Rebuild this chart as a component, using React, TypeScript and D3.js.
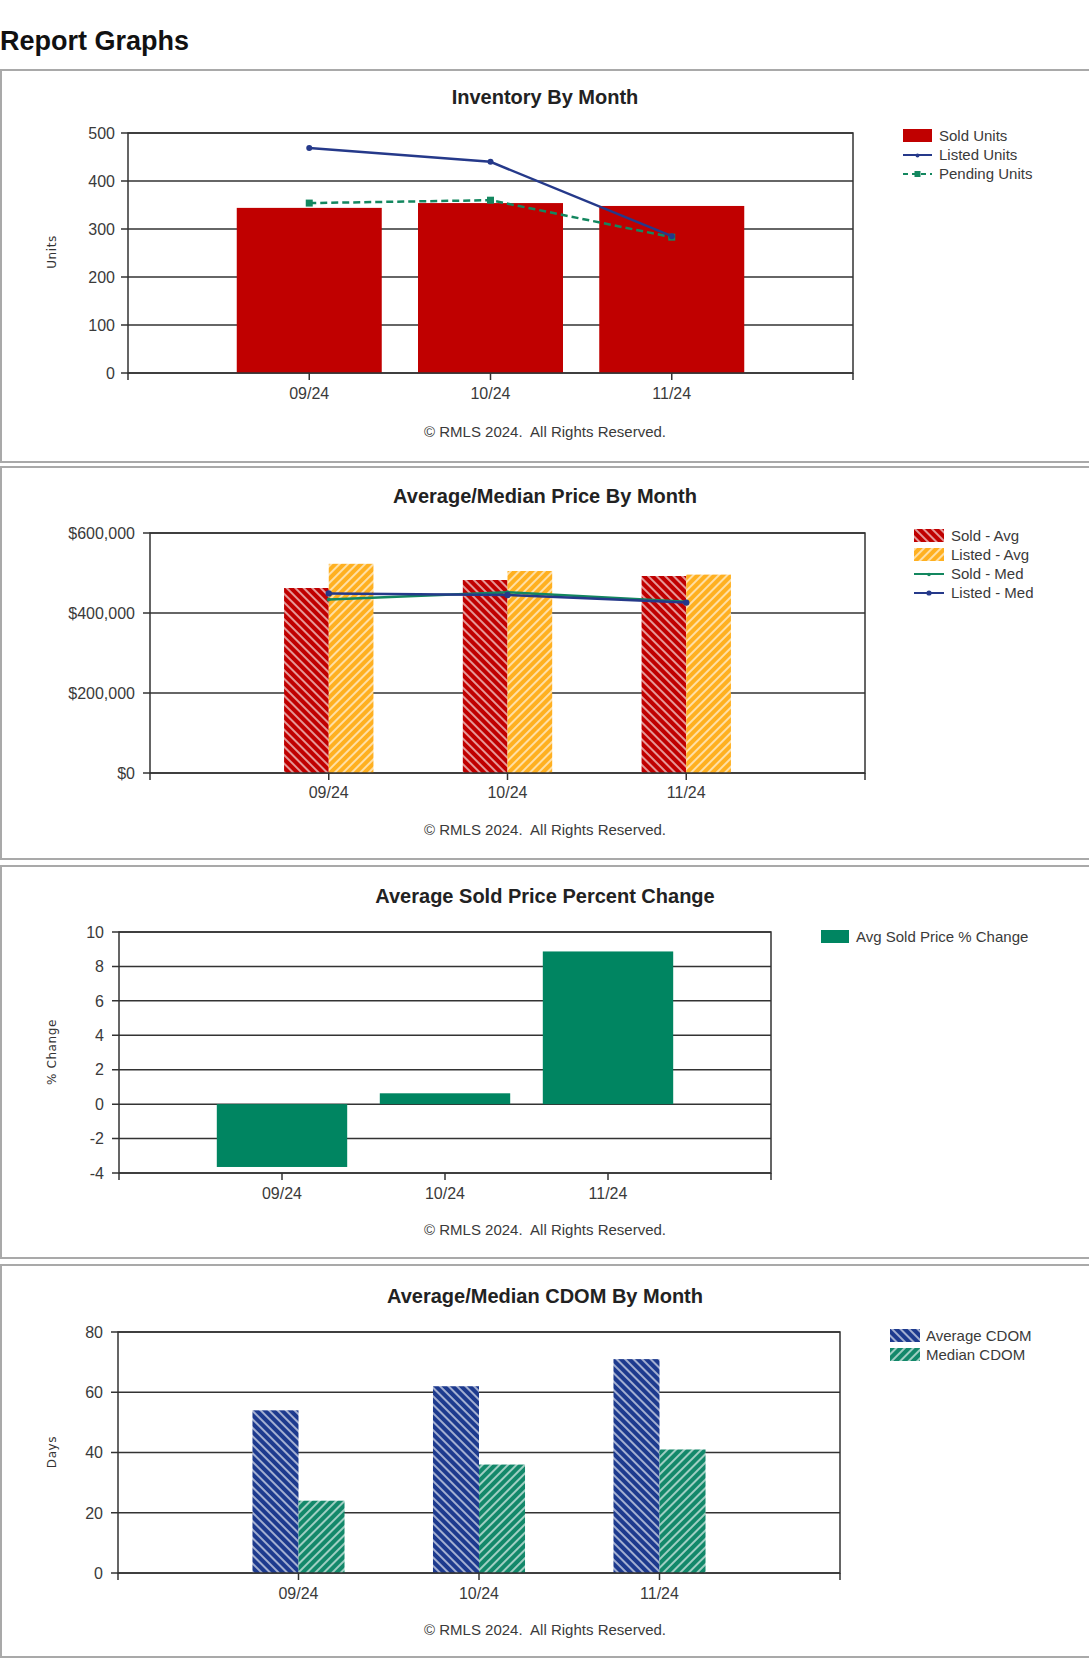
import React from 'react';
import * as d3 from 'd3';

// category labels
const months = ['09/24', '10/24', '11/24'];

// Inventory By Month
const soldUnits = [344, 354, 348];
const listedUnits = [469, 440, 285];
const pendingUnits = [354, 360, 283];
const unitTicks = [0, 100, 200, 300, 400, 500];

// Average/Median Price By Month
const soldAvgPrice = [462500, 482500, 492500];
const listedAvgPrice = [523000, 505000, 496000];
const soldMedPrice = [434000, 452000, 428000];
const listedMedPrice = [449000, 445000, 426000];
const priceTicks = [0, 200000, 400000, 600000];

// Average Sold Price Percent Change
const avgSoldPctChange = [-3.65, 0.63, 8.87];
const pctTicks = [-4, -2, 0, 2, 4, 6, 8, 10];

// Average/Median CDOM By Month
const avgCdom = [54, 62, 71];
const medianCdom = [24, 36, 41];
const dayTicks = [0, 20, 40, 60, 80];

const FONT = '"Liberation Sans", Arial, Helvetica, sans-serif';
const GRID = '#333';
const TXT = '#3a3a3a';

const RED = '#c00000';
const NAVY = '#25398a';
const GREEN = '#13875f';
const ORANGE = '#ffb020';
const PCT_GREEN = '#008561';
const CDOM_NAVY = '#1d3a8e';
const CDOM_GREEN = '#13886a';

const COPYRIGHT = '\u00A9 RMLS 2024.  All Rights Reserved.';

type Lin = d3.ScaleLinear<number, number>;

function Axes({ x, y, ticks, fmt, labelY, labelGap }: { x: Lin; y: Lin; ticks: number[]; fmt: (v: number) => string; labelY: number; labelGap: number }) {
  const [x0, x1] = x.range();
  return (
    <g>
      {ticks.map(t => (
        <line key={'g' + t} x1={x0 - 7} x2={x1} y1={y(t)} y2={y(t)} stroke={GRID} strokeWidth={1.5} />
      ))}
      {ticks.map(t => (
        <text key={'t' + t} x={x0 - labelGap} y={y(t)} dy="0.36em" textAnchor="end" fontSize={16} fill={TXT}>
          {fmt(t)}
        </text>
      ))}
      {months.map((m, i) => (
        <text key={m} x={x(i + 1)} y={labelY} textAnchor="middle" fontSize={16} fill={TXT}>
          {m}
        </text>
      ))}
    </g>
  );
}

function Frame({ x, y }: { x: Lin; y: Lin }) {
  const [x0, x1] = x.range();
  const [yb, yt] = y.range();
  return (
    <g>
      <rect x={x0} y={yt} width={x1 - x0} height={yb - yt} fill="none" stroke={GRID} strokeWidth={1.5} />
      {[0, 1, 2, 3, 4].map(i => (
        <line key={i} x1={x(i)} x2={x(i)} y1={yb} y2={yb + 7} stroke={GRID} strokeWidth={1.5} />
      ))}
    </g>
  );
}

function Panel({ top, title, titleY, copyY, axisTitle, axisTitleY }: { top: number; title: string; titleY: number; copyY: number; axisTitle?: string; axisTitleY?: number }) {
  return (
    <g>
      <rect x={1} y={top} width={1100} height={392} fill="#fff" stroke="#a9a9a9" strokeWidth={2} />
      <text x={545} y={titleY} textAnchor="middle" fontSize={20} fontWeight="bold" fill="#222">
        {title}
      </text>
      <text x={545} y={copyY} textAnchor="middle" fontSize={15} fill={TXT} style={{ whiteSpace: 'pre' }}>
        {COPYRIGHT}
      </text>
      {axisTitle && (
        <text
          transform={`translate(56,${axisTitleY}) rotate(-90)`}
          textAnchor="middle"
          fontSize={12}
          fill="#333"
          letterSpacing={0.6}
          fontFamily='"DejaVu Sans", Verdana, sans-serif'
        >
          {axisTitle}
        </text>
      )}
    </g>
  );
}

function LegendRow({ x, y, label, children }: { x: number; y: number; label: string; children: React.ReactNode }) {
  return (
    <g>
      {children}
      <text x={x} y={y} dy="0.36em" fontSize={15} fill={TXT}>
        {label}
      </text>
    </g>
  );
}

function InventoryChart() {
  const x = d3.scaleLinear().domain([0, 4]).range([128, 853]);
  const y = d3.scaleLinear().domain([0, 500]).range([373, 133]);
  const band = x(1) - x(0);
  const bw = band * 0.8;
  const line = d3.line<number>().x((_, i) => x(i + 1)).y(d => y(d));
  return (
    <g>
      <Panel top={70} title="Inventory By Month" titleY={104} copyY={437} axisTitle="Units" axisTitleY={252} />
      <Axes x={x} y={y} ticks={unitTicks} fmt={d => String(d)} labelY={399} labelGap={13} />
      {soldUnits.map((v, i) => (
        <rect key={i} x={x(i + 1) - bw / 2} y={y(v)} width={bw} height={y(0) - y(v)} fill={RED} />
      ))}
      <path d={line(pendingUnits) || ''} fill="none" stroke={GREEN} strokeWidth={2.5} strokeDasharray="7,4" />
      {pendingUnits.map((v, i) => (
        <rect key={i} x={x(i + 1) - 3.5} y={y(v) - 3.5} width={7} height={7} fill={GREEN} />
      ))}
      <path d={line(listedUnits) || ''} fill="none" stroke={NAVY} strokeWidth={2.5} />
      {listedUnits.map((v, i) => (
        <circle key={i} cx={x(i + 1)} cy={y(v)} r={3} fill={NAVY} />
      ))}
      <Frame x={x} y={y} />
      <LegendRow x={939} y={136} label="Sold Units">
        <rect x={903} y={129} width={29} height={13} fill={RED} />
      </LegendRow>
      <LegendRow x={939} y={155} label="Listed Units">
        <line x1={903} x2={932} y1={155} y2={155} stroke={NAVY} strokeWidth={2} />
        <circle cx={917.5} cy={155.5} r={2} fill={NAVY} />
      </LegendRow>
      <LegendRow x={939} y={174} label="Pending Units">
        <line x1={903} x2={932} y1={174} y2={174} stroke={GREEN} strokeWidth={2} strokeDasharray="5,4" />
        <rect x={914.5} y={171} width={6} height={6} fill={GREEN} />
      </LegendRow>
    </g>
  );
}

function PriceChart() {
  const x = d3.scaleLinear().domain([0, 4]).range([150, 865]);
  const y = d3.scaleLinear().domain([0, 600000]).range([773, 533]);
  const band = x(1) - x(0);
  const bw = band * 0.25;
  const fmt = d3.format('$,.0f');
  const line = d3.line<number>().x((_, i) => x(i + 1)).y(d => y(d));
  return (
    <g>
      <Panel top={467} title="Average/Median Price By Month" titleY={503} copyY={835} />
      <Axes x={x} y={y} ticks={priceTicks} fmt={d => fmt(d)} labelY={798} labelGap={15} />
      {soldAvgPrice.map((v, i) => (
        <rect key={'s' + i} x={x(i + 1) - bw} y={y(v)} width={bw} height={y(0) - y(v)} fill="url(#hatchRed)" />
      ))}
      {listedAvgPrice.map((v, i) => (
        <rect key={'l' + i} x={x(i + 1)} y={y(v)} width={bw} height={y(0) - y(v)} fill="url(#hatchOrange)" />
      ))}
      <path d={line(soldMedPrice) || ''} fill="none" stroke={GREEN} strokeWidth={2.5} />
      {soldMedPrice.map((v, i) => (
        <circle key={i} cx={x(i + 1)} cy={y(v)} r={2} fill={GREEN} />
      ))}
      <path d={line(listedMedPrice) || ''} fill="none" stroke={NAVY} strokeWidth={2.5} />
      {listedMedPrice.map((v, i) => (
        <circle key={i} cx={x(i + 1)} cy={y(v)} r={3.2} fill={NAVY} />
      ))}
      <Frame x={x} y={y} />
      <LegendRow x={951} y={536} label="Sold - Avg">
        <rect x={914} y={529} width={30} height={13} fill="url(#hatchRed)" />
      </LegendRow>
      <LegendRow x={951} y={555} label="Listed - Avg">
        <rect x={914} y={548} width={30} height={13} fill="url(#hatchOrange)" />
      </LegendRow>
      <LegendRow x={951} y={574} label="Sold - Med">
        <line x1={914} x2={944} y1={574} y2={574} stroke={GREEN} strokeWidth={2} />
        <circle cx={929} cy={574.5} r={1.8} fill={GREEN} />
      </LegendRow>
      <LegendRow x={951} y={593} label="Listed - Med">
        <line x1={914} x2={944} y1={593} y2={593} stroke={NAVY} strokeWidth={2} />
        <circle cx={929} cy={593} r={2.6} fill={NAVY} />
      </LegendRow>
    </g>
  );
}

function PctChart() {
  const x = d3.scaleLinear().domain([0, 4]).range([119, 771]);
  const y = d3.scaleLinear().domain([-4, 10]).range([1173, 932]);
  const band = x(1) - x(0);
  const bw = band * 0.8;
  return (
    <g>
      <Panel top={866} title="Average Sold Price Percent Change" titleY={903} copyY={1235} axisTitle="% Change" axisTitleY={1052} />
      <Axes x={x} y={y} ticks={pctTicks} fmt={d => String(d)} labelY={1199} labelGap={15} />
      {avgSoldPctChange.map((v, i) => (
        <rect
          key={i}
          x={x(i + 1) - bw / 2}
          y={Math.min(y(v), y(0))}
          width={bw}
          height={Math.abs(y(v) - y(0))}
          fill={PCT_GREEN}
        />
      ))}
      <Frame x={x} y={y} />
      <LegendRow x={856} y={937} label="Avg Sold Price % Change">
        <rect x={821} y={930} width={28} height={13} fill={PCT_GREEN} />
      </LegendRow>
    </g>
  );
}

function CdomChart() {
  const x = d3.scaleLinear().domain([0, 4]).range([118, 840]);
  const y = d3.scaleLinear().domain([0, 80]).range([1573, 1332]);
  const band = x(1) - x(0);
  const bw = band * 0.255;
  return (
    <g>
      <Panel top={1265} title="Average/Median CDOM By Month" titleY={1303} copyY={1635} axisTitle="Days" axisTitleY={1452} />
      <Axes x={x} y={y} ticks={dayTicks} fmt={d => String(d)} labelY={1599} labelGap={15} />
      {avgCdom.map((v, i) => (
        <rect key={'a' + i} x={x(i + 1) - bw} y={y(v)} width={bw} height={y(0) - y(v)} fill="url(#hatchNavy)" />
      ))}
      {medianCdom.map((v, i) => (
        <rect key={'m' + i} x={x(i + 1)} y={y(v)} width={bw} height={y(0) - y(v)} fill="url(#hatchGreen)" />
      ))}
      <Frame x={x} y={y} />
      <LegendRow x={926} y={1336} label="Average CDOM">
        <rect x={890} y={1329} width={30} height={13} fill="url(#hatchNavy)" />
      </LegendRow>
      <LegendRow x={926} y={1355} label="Median CDOM">
        <rect x={890} y={1348} width={30} height={13} fill="url(#hatchGreen)" />
      </LegendRow>
    </g>
  );
}

function Hatch({ id, color, angle }: { id: string; color: string; angle: number }) {
  return (
    <pattern id={id} patternUnits="userSpaceOnUse" width={6} height={6} patternTransform={`rotate(${angle})`}>
      <rect width={6} height={6} fill={color} />
      <line x1={3} x2={3} y1={0} y2={6} stroke="#fff" strokeOpacity={0.85} strokeWidth={1.4} />
    </pattern>
  );
}

export default function App() {
  return (
    <svg
      width={1089}
      height={1658}
      style={{ position: 'absolute', left: 0, top: 0, background: '#fff' }}
      fontFamily={FONT}
    >
      <defs>
        <Hatch id="hatchRed" color={RED} angle={-45} />
        <Hatch id="hatchOrange" color={ORANGE} angle={45} />
        <Hatch id="hatchNavy" color={CDOM_NAVY} angle={-45} />
        <Hatch id="hatchGreen" color={CDOM_GREEN} angle={45} />
      </defs>
      <text x={0} y={50} fontSize={27} fontWeight="bold" fill="#111">
        Report Graphs
      </text>
      <InventoryChart />
      <PriceChart />
      <PctChart />
      <CdomChart />
    </svg>
  );
}
